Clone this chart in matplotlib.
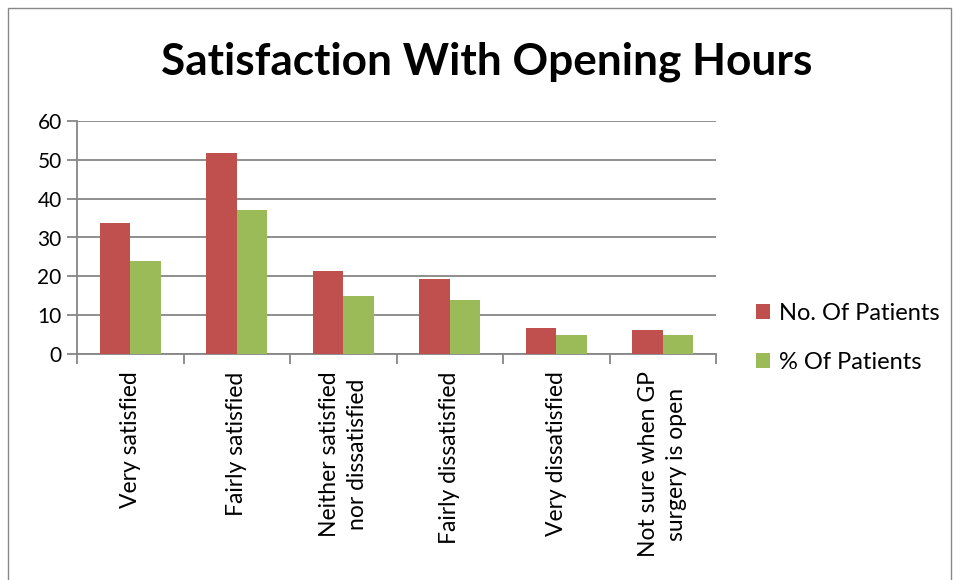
import matplotlib.pyplot as plt
import numpy as np
from matplotlib.patches import Rectangle

plt.rcParams['font.family'] = ['Lato', 'DejaVu Sans']

categories = ['Very satisfied', 'Fairly satisfied', 'Neither satisfied\nnor dissatisfied',
              'Fairly dissatisfied', 'Very dissatisfied', 'Not sure when GP\nsurgery is open']
no_patients = [33.7, 51.7, 21.4, 19.4, 6.7, 6.3]
pct_patients = [24, 37, 15, 14, 5, 5]
series_names = ['No. Of Patients', '% Of Patients']
colors = ['#C0504D', '#9BBB59']

W, H = 957, 580
fig = plt.figure(figsize=(W / 100, H / 100), dpi=100)

# outer chart border
fig.patches.append(Rectangle((8 / W, -0.01), (951 - 8) / W, (H - 8) / H + 0.01,
                             transform=fig.transFigure, fill=False,
                             edgecolor='#888888', linewidth=1))

ax = fig.add_axes([77 / W, 1 - 354 / H, (716 - 77) / W, (354 - 121) / H])

x = np.arange(len(categories))
bw = 0.286
ax.bar(x - bw / 2, no_patients, bw, color=colors[0], label=series_names[0], zorder=3)
ax.bar(x + bw / 2, pct_patients, bw, color=colors[1], label=series_names[1], zorder=3)

ax.set_xlim(-0.5, len(categories) - 0.5)
ax.set_ylim(0, 60)
ax.set_yticks(range(0, 61, 10))
ax.yaxis.grid(True, color='#868686', linewidth=1.3, zorder=0)
ax.set_axisbelow(True)

for s in ['top', 'right']:
    ax.spines[s].set_visible(False)
ax.spines['left'].set_color('#868686')
ax.spines['bottom'].set_color('#868686')
ax.spines['left'].set_linewidth(1.3)
ax.spines['bottom'].set_linewidth(1.3)

ax.tick_params(axis='y', length=7, color='#868686', width=1.3, labelsize=15, pad=4)
ax.set_xticks(np.arange(len(categories) + 1) - 0.5)
ax.set_xticklabels([])
ax.tick_params(axis='x', length=7, color='#868686', width=1.3)

for i, lab in enumerate(categories):
    ax.text(i, -0.075, lab, transform=ax.get_xaxis_transform(), rotation=90,
            ha='center', va='top', fontsize=16.5, multialignment='center', linespacing=1.4)

fig.text(487 / W, 1 - 62 / H, 'Satisfaction With Opening Hours', ha='center', va='center',
         fontsize=31.8, fontweight='bold')

ax.legend(loc='center left', bbox_to_anchor=(735 / W, 1 - 338 / H), bbox_transform=fig.transFigure,
          frameon=False, fontsize=17, handlelength=0.6, handleheight=0.6, labelspacing=1.2,
          handletextpad=0.35)

fig.savefig('out.png', dpi=100)
